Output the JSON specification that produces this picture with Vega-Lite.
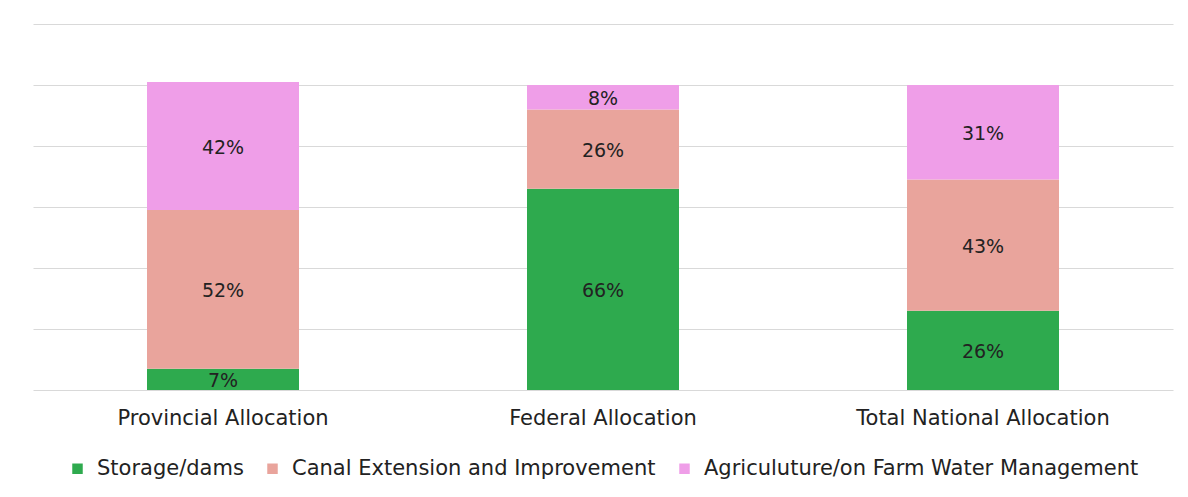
{
  "$schema": "https://vega.github.io/schema/vega-lite/v6.json",
  "width": 1140,
  "height": 366,
  "padding": {"left": 33, "top": 24, "right": 15, "bottom": 10},
  "background": "white",
  "data": {
    "values": [
      {"category": "Provincial Allocation", "series": "Storage/dams", "share": 0.07},
      {"category": "Provincial Allocation", "series": "Canal Extension and Improvement", "share": 0.52},
      {"category": "Provincial Allocation", "series": "Agriculuture/on Farm Water Management", "share": 0.42},
      {"category": "Federal Allocation", "series": "Storage/dams", "share": 0.66},
      {"category": "Federal Allocation", "series": "Canal Extension and Improvement", "share": 0.26},
      {"category": "Federal Allocation", "series": "Agriculuture/on Farm Water Management", "share": 0.08},
      {"category": "Total National Allocation", "series": "Storage/dams", "share": 0.26},
      {"category": "Total National Allocation", "series": "Canal Extension and Improvement", "share": 0.43},
      {"category": "Total National Allocation", "series": "Agriculuture/on Farm Water Management", "share": 0.31}
    ]
  },
  "transform": [
    {"stack": "share", "groupby": ["category"], "sort": [{"field": "series", "order": "descending"}], "as": ["y0", "y1"]}
  ],
  "encoding": {
    "x": {
      "field": "category",
      "type": "nominal",
      "sort": ["Provincial Allocation", "Federal Allocation", "Total National Allocation"],
      "scale": {"paddingInner": 0.6, "paddingOuter": 0.3},
      "axis": {"title": null, "labelAngle": 0, "ticks": false, "domain": false, "labelFontSize": 21, "labelPadding": 17, "labelLimit": 0, "labelColor": "#222222", "labelFont": "DejaVu Sans"}
    }
  },
  "layer": [
    {
      "mark": {"type": "bar"},
      "encoding": {
        "y": {
          "field": "y0",
          "type": "quantitative",
          "scale": {"domain": [0, 1.2], "nice": false},
          "axis": {"title": null, "values": [0, 0.2, 0.4, 0.6, 0.8, 1.0, 1.2], "labels": false, "ticks": false, "domain": false, "gridColor": "#d9d9d9", "gridWidth": 1}
        },
        "y2": {"field": "y1"},
        "color": {
          "field": "series",
          "type": "nominal",
          "scale": {
            "domain": ["Storage/dams", "Canal Extension and Improvement", "Agriculuture/on Farm Water Management"],
            "range": ["#2eaa4e", "#e9a49c", "#ef9ee8"]
          },
          "legend": {"title": null, "orient": "bottom", "direction": "horizontal", "symbolType": "square", "symbolSize": 110, "symbolStrokeWidth": 0, "symbolOpacity": 1, "labelFontSize": 21, "labelFont": "DejaVu Sans", "labelColor": "#222222", "labelLimit": 0, "labelOffset": 9, "columnPadding": 18, "offset": 30}
        }
      }
    },
    {
      "transform": [
        {"fold": ["y0", "y1"], "as": ["edge", "pos"]},
        {"aggregate": [{"op": "mean", "field": "pos", "as": "mid"}], "groupby": ["category", "series", "share"]}
      ],
      "mark": {"type": "text", "fontSize": 19, "font": "DejaVu Sans", "color": "#222222", "baseline": "middle", "align": "center", "dy": 2},
      "encoding": {
        "y": {"field": "mid", "type": "quantitative"},
        "text": {"field": "share", "type": "quantitative", "format": ".0%"}
      }
    }
  ],
  "config": {
    "view": {"stroke": null},
    "legend": {"layout": {"bottom": {"anchor": "middle"}}}
  }
}
